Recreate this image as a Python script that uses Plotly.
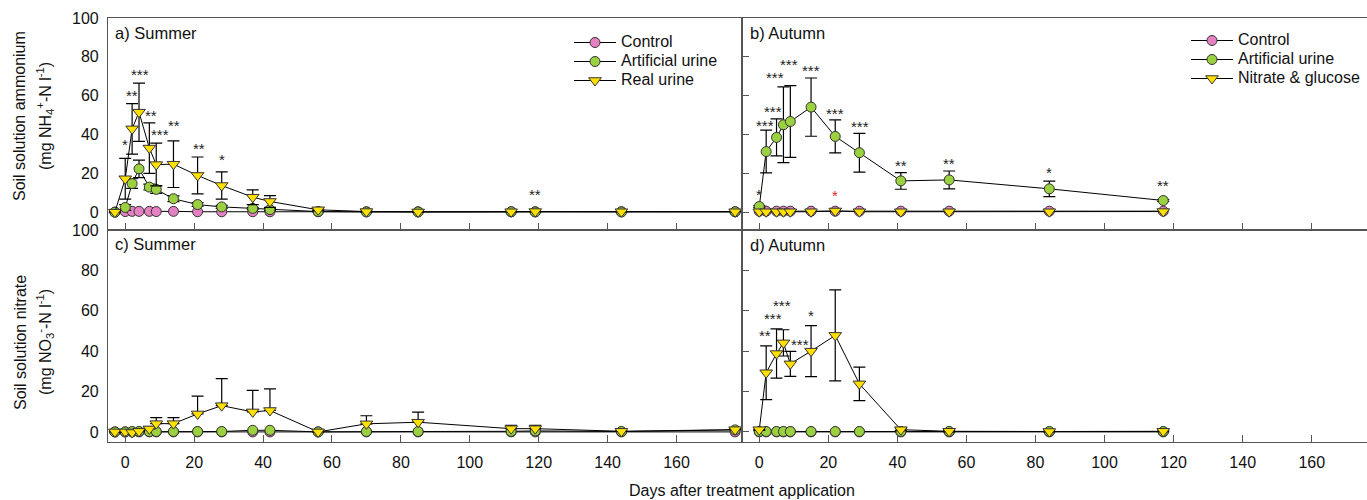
import plotly.graph_objects as go

# ---------------- data ----------------
summer_days = [-3, 0, 2, 4, 7, 9, 14, 21, 28, 37, 42, 56, 70, 85, 112, 119, 144, 177]
autumn_days = [0, 2, 5, 7, 9, 15, 22, 29, 41, 55, 84, 117]

# a) Summer ammonium
ctrl_a = [0.0, 0.3, 0.4, 0.4, 0.4, 0.3, 0.4, 0.2, 0.2, 0.2, 0.2, 0.2, 0.2, 0.2, 0.2, 0.2, 0.2, 0.2]
art_a = [0.0, 2.4, 14.7, 22.3, 12.9, 11.7, 6.9, 3.9, 2.7, 1.9, 1.3, 0.3, 0.1, 0.1, 0.2, 0.1, 0.1, 0.2]
art_a_se = [0, 1.5, 2.5, 4.5, 1.5, 2.0, 1.5, 1.0, 0.8, 0.5, 0.5, 0.2, 0, 0, 0, 0, 0, 0]
real_a = [0.0, 17.2, 42.9, 51.5, 33.0, 24.5, 24.7, 18.9, 13.7, 7.7, 5.5, 1.2, 0.3, 0.1, 0.2, 0.3, 0.2, 0.2]
real_a_se = [0, 10.5, 13.0, 15.0, 13.0, 11.0, 12.0, 9.5, 7.0, 3.8, 3.0, 0.5, 0.2, 0, 0, 0, 0, 0]

# b) Autumn ammonium
ctrl_b = [0.5, 0.5, 0.5, 0.5, 0.5, 0.5, 0.5, 0.5, 0.5, 0.5, 0.5, 0.5]
art_b = [2.9, 31.2, 38.5, 45.0, 46.7, 54.1, 39.0, 30.6, 16.1, 16.6, 12.0, 6.0]
art_b_se = [0.5, 11.0, 9.5, 19.5, 18.5, 15.0, 8.5, 10.0, 4.3, 4.6, 4.0, 0.5]
nitg_b = [0.2, 0.2, 0.2, 0.2, 0.2, 0.2, 0.6, 0.2, 0.2, 0.2, 0.2, 0.3]

# c) Summer nitrate
ctrl_c = [0.0, 0.0, 0.0, 0.0, 0.0, 0.0, 0.0, 0.0, 0.0, 0.0, 0.0, 0.0, 0.0, 0.0, 0.0, 0.0, 0.0, 0.0]
art_c = [0.0, 0.0, 0.2, 0.2, 0.2, 0.2, 0.2, 0.2, 0.2, 0.8, 0.8, 0.0, 0.2, 0.2, 0.3, 0.5, 0.2, 1.0]
real_c = [0.0, 0.0, -0.3, 0.3, 1.5, 4.1, 4.1, 8.9, 13.0, 9.9, 10.6, 0.0, 4.0, 4.8, 1.6, 1.6, 0.3, 1.1]
real_c_se = [0, 0, 0, 0.3, 1.0, 3.0, 3.0, 8.8, 13.4, 10.7, 10.7, 0, 4.0, 5.0, 1.7, 1.7, 0.3, 0.5]

# d) Autumn nitrate
ctrl_d = [0.0, 0.0, 0.0, 0.0, 0.0, 0.0, 0.0, 0.0, 0.0, 0.0, 0.0, 0.0]
art_d = [0.2, 0.2, 0.2, 0.2, 0.2, 0.2, 0.2, 0.2, 0.2, 0.2, 0.2, 0.2]
nitg_d = [1.1, 29.3, 38.8, 44.1, 33.7, 40.0, 47.8, 23.8, 1.1, 0.3, 0.2, 0.3]
nitg_d_se = [0.3, 13.3, 12.2, 6.5, 6.2, 12.6, 22.5, 8.3, 0.5, 0.3, 0.2, 0.2]

# significance labels (day, value, text)
stars_a_x = [0, 2, 4.3, 7.4, 10, 14.2, 21.4, 28.2, 119]
stars_a_y = [34.7, 60.1, 71.1, 49.8, 40.2, 44.5, 33.0, 27.0, 8.9]
stars_a_t = ["*", "**", "***", "**", "***", "**", "**", "*", "**"]

stars_b_x = [0, 1.7, 3.9, 4.6, 8.7, 15, 21.9, 29.2, 41, 55, 84, 117]
stars_b_y = [8.9, 44.5, 51.9, 69.4, 75.9, 72.8, 51.0, 44.1, 23.9, 24.9, 20.4, 13.7]
stars_b_t = ["*", "***", "***", "***", "***", "***", "***", "***", "**", "**", "*", "**"]
red_star_b = (22, 8.4)

stars_d_x = [1.7, 3.9, 6.5, 11.8, 15]
stars_d_y = [47.8, 56.0, 62.6, 43.3, 57.8]
stars_d_t = ["**", "***", "***", "***", "*"]

x_ticks = [0, 20, 40, 60, 80, 100, 120, 140, 160]
y_ticks = [0, 20, 40, 60, 80, 100]

# ---------------- style ----------------
PINK = "#E581C3"
GREEN = "#9BD040"
YELLOW = "#FFE000"
FONT = "Liberation Sans, Arial, sans-serif"
AX = "#555555"

W, H = 1367, 500
xl, xm = 108 / W, 742 / W
yb, ym, yt = 1 - 442 / H, 1 - 230 / H, 1 - 18 / H

fig = go.Figure()


def lbl(t):
    return '<span style="font-size:16px">' + t + "</span>"


def add(x, y, se, color, symbol, name, xa, ya, legend, showlegend, se_minus=None):
    err = None
    if se is not None:
        err = dict(type="data", array=se, arrayminus=se_minus if se_minus is not None else se,
                   visible=True, color="black", thickness=1.2, width=6)
    fig.add_trace(go.Scatter(
        x=x, y=y, mode="lines+markers", name=lbl(name),
        line=dict(color="black", width=1),
        marker=dict(symbol=symbol, size=10 if symbol == "circle" else 11, color=color,
                    line=dict(color="#333333", width=1)),
        error_y=err, xaxis=xa, yaxis=ya, legend=legend, showlegend=showlegend,
        cliponaxis=False,
    ))


# panel a
add(summer_days, ctrl_a, None, PINK, "circle", "Control", "x", "y", "legend", True)
add(summer_days, art_a, art_a_se, GREEN, "circle", "Artificial urine", "x", "y", "legend", True)
add(summer_days, real_a, real_a_se, YELLOW, "triangle-down", "Real urine", "x", "y", "legend", True)
# panel b
add(autumn_days, ctrl_b, None, PINK, "circle", "Control", "x2", "y2", "legend2", True)
add(autumn_days, art_b, art_b_se, GREEN, "circle", "Artificial urine", "x2", "y2", "legend2", True)
add(autumn_days, nitg_b, None, YELLOW, "triangle-down", "Nitrate &amp; glucose", "x2", "y2", "legend2", True)
# panel c
add(summer_days, ctrl_c, None, PINK, "circle", "Control", "x3", "y3", "legend", False)
add(summer_days, art_c, None, GREEN, "circle", "Artificial urine", "x3", "y3", "legend", False)
add(summer_days, real_c, real_c_se, YELLOW, "triangle-down", "Real urine", "x3", "y3", "legend", False,
    se_minus=[0] * len(real_c_se))
# panel d
add(autumn_days, ctrl_d, None, PINK, "circle", "Control", "x4", "y4", "legend2", False)
add(autumn_days, art_d, None, GREEN, "circle", "Artificial urine", "x4", "y4", "legend2", False)
add(autumn_days, nitg_d, nitg_d_se, YELLOW, "triangle-down", "Nitrate &amp; glucose", "x4", "y4", "legend2", False)


def xaxis(domain, anchor, labels, rng):
    return dict(domain=domain, anchor=anchor, range=rng, tickvals=x_ticks, ticks="inside",
                ticklen=7, tickcolor=AX, tickwidth=1.2, showticklabels=labels,
                showline=True, mirror=True, linecolor=AX, linewidth=1.2, showgrid=False,
                zeroline=False, tickfont=dict(family=FONT, size=16, color="#111"),
                ticklabelstandoff=6)


def yaxis(domain, anchor, labels, rng, mirror):
    return dict(domain=domain, anchor=anchor, range=rng, tickvals=y_ticks,
                ticks="" if labels else "inside", ticklen=7, tickcolor=AX, tickwidth=1.2,
                showticklabels=labels, showline=True, mirror=mirror, linecolor=AX, linewidth=1.2,
                showgrid=False, zeroline=False, tickfont=dict(family=FONT, size=16, color="#111"),
                ticklabelstandoff=5)


fig.update_layout(
    width=W, height=H, margin=dict(l=0, r=0, t=0, b=0, autoexpand=False),
    paper_bgcolor="white", plot_bgcolor="white",
    font=dict(family=FONT, color="#111"),
    xaxis=xaxis([xl, xm], "y", False, [-5, 179]),
    yaxis=yaxis([ym, yt], "x", True, [-9.2, 100], True),
    xaxis2=xaxis([xm, 1], "y2", False, [-5, 176]),
    yaxis2=yaxis([ym, yt], "x2", False, [-9.2, 100], False),
    xaxis3=xaxis([xl, xm], "y3", True, [-5, 179]),
    yaxis3=yaxis([yb, ym], "x3", True, [-5, 100], True),
    xaxis4=xaxis([xm, 1], "y4", True, [-5, 176]),
    yaxis4=yaxis([yb, ym], "x4", False, [-5, 100], False),
    legend=dict(x=569 / W, y=1 - 28 / H, xanchor="left", yanchor="top", bgcolor="rgba(0,0,0,0)",
                font=dict(family=FONT, size=12, color="#111"), borderwidth=0, tracegroupgap=0,
                itemwidth=42),
    legend2=dict(x=1186 / W, y=1 - 26 / H, xanchor="left", yanchor="top", bgcolor="rgba(0,0,0,0)",
                 font=dict(family=FONT, size=12, color="#111"), borderwidth=0, tracegroupgap=0,
                 itemwidth=42),
)

ann = []


def stars(xs, ys, ts, xr, yr, color="#222"):
    for x, y, t in zip(xs, ys, ts):
        ann.append(dict(x=x, y=y, xref=xr, yref=yr, text=t, showarrow=False,
                        xanchor="center", yanchor="middle",
                        font=dict(family=FONT, size=15, color=color)))


stars(stars_a_x, stars_a_y, stars_a_t, "x", "y")
stars(stars_b_x, stars_b_y, stars_b_t, "x2", "y2")
stars([red_star_b[0]], [red_star_b[1]], ["*"], "x2", "y2", color="#E81E1E")
stars(stars_d_x, stars_d_y, stars_d_t, "x4", "y4")

for txt, xp, yp in [("a) Summer", 113, 33), ("b) Autumn", 748, 33),
                    ("c) Summer", 113, 244), ("d) Autumn", 748, 245)]:
    ann.append(dict(x=xp / W, xref="paper", y=1 - yp / H, yref="paper", text=txt,
                    showarrow=False, xanchor="left", yanchor="middle",
                    font=dict(family=FONT, size=16.5, color="#111")))


def title(text, xp, yp, angle):
    ann.append(dict(x=xp / W, y=1 - yp / H, xref="paper", yref="paper", text=text,
                    textangle=angle, showarrow=False, xanchor="center", yanchor="middle",
                    font=dict(family=FONT, size=16, color="#111")))


title("Soil solution ammonium", 20, 116, -90)
title("(mg NH<sub>4</sub><sup>+</sup>-N l<sup>-1</sup>)", 45, 116, -90)
title("Soil solution nitrate", 20, 343, -90)
title("(mg NO<sub>3</sub><sup>-</sup>-N l<sup>-1</sup>)", 45, 342, -90)
title("Days after treatment application", 742, 490, 0)

fig.update_layout(annotations=ann)
fig.write_html("out.html")
